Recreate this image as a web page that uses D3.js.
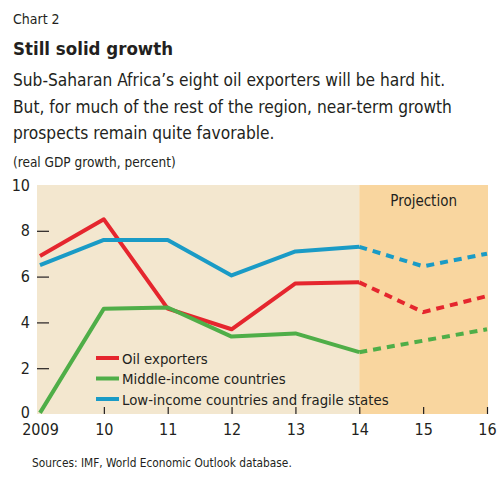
<!DOCTYPE html>
<html>
<head>
<meta charset="utf-8">
<script src="https://cdn.jsdelivr.net/npm/d3@7"></script>
<style>
  body { margin: 0; background: #fff; }
  text { font-family: "DejaVu Sans Condensed", "Liberation Sans Narrow", sans-serif; fill: #231f20; }
</style>
</head>
<body>
<div id="chart"></div>
<script>
var years = [2009, 2010, 2011, 2012, 2013, 2014, 2015, 2016];
var yearLabels = ["2009", "10", "11", "12", "13", "14", "15", "16"];
var oilExporters = [6.9, 8.5, 4.6, 3.7, 5.7, 5.75, 4.45, 5.15];
var middleIncome = [0.05, 4.6, 4.65, 3.38, 3.52, 2.7, 3.2, 3.7];
var lowIncome = [6.5, 7.6, 7.6, 6.05, 7.1, 7.3, 6.45, 7.0];
var yTicks = [0, 2, 4, 6, 8, 10];
var projectionStart = 2014;

var aSeries = [
	{ name: "Oil exporters", values: oilExporters, color: "#e5262e" },
	{ name: "Middle-income countries", values: middleIncome, color: "#4fae48" },
	{ name: "Low-income countries and fragile states", values: lowIncome, color: "#1a9bc6" }
];

var width = 500, height = 483;
var margin = { top: 185, right: 12, bottom: 69, left: 37 };
var innerW = width - margin.left - margin.right,
	innerH = height - margin.top - margin.bottom;

var svg = d3.select("#chart").append("svg")
	.attr("width", width)
	.attr("height", height);

// header texts
svg.append("text").attr("x", 13).attr("y", 24).style("font-size", "14px").text("Chart 2");
svg.append("text").attr("x", 13).attr("y", 55).style("font-size", "18.5px").style("font-weight", "bold").text("Still solid growth");
var aSub = ["Sub-Saharan Africa\u2019s eight oil exporters will be hard hit.",
	"But, for much of the rest of the region, near-term growth",
	"prospects remain quite favorable."];
aSub.forEach(function (line, i) {
	svg.append("text").attr("x", 13).attr("y", 86 + i * 26.5).style("font-size", "17.2px").text(line);
});
svg.append("text").attr("x", 13).attr("y", 167).style("font-size", "13.5px").text("(real GDP growth, percent)");

var g = svg.append("g").attr("transform", "translate(" + margin.left + "," + margin.top + ")");

var x = d3.scaleLinear().domain([2009, 2016]).range([3, innerW - 1]);
var y = d3.scaleLinear().domain([0, 10]).range([innerH, 0]);

// backgrounds
g.append("rect").attr("x", 0).attr("y", 0).attr("width", x(projectionStart)).attr("height", innerH).attr("fill", "#f3e7cf");
g.append("rect").attr("x", x(projectionStart)).attr("y", 0).attr("width", innerW - x(projectionStart)).attr("height", innerH).attr("fill", "#f9d69f");
g.append("text").attr("x", (x(projectionStart) + innerW) / 2).attr("y", 21)
	.attr("text-anchor", "middle").style("font-size", "15px").text("Projection");

// y axis
var yAxis = g.append("g").call(d3.axisLeft(y).tickValues(yTicks).tickSize(-12).tickPadding(20));
yAxis.select(".domain").remove();
yAxis.selectAll(".tick line").attr("stroke", "#231f20").attr("stroke-width", 1.2);
yAxis.selectAll(".tick text").style("font-size", "16px").attr("x", -7);
yAxis.selectAll(".tick").filter(function (d) { return d === 0 || d === 10; }).select("line").remove();
yAxis.selectAll(".tick").filter(function (d) { return d === 0; }).select("text").attr("dy", "0.2em");

// x axis
var xAxis = g.append("g").attr("transform", "translate(0," + innerH + ")")
	.call(d3.axisBottom(x).tickValues(years).tickFormat(function (d, i) { return yearLabels[i]; }).tickSize(-7).tickPadding(10));
xAxis.select(".domain").remove();
xAxis.selectAll(".tick line").attr("stroke", "#231f20").attr("stroke-width", 1.2);
xAxis.selectAll(".tick text").style("font-size", "16px");
xAxis.selectAll(".tick").filter(function (d) { return d === 2009; }).select("line").remove();

// lines
var line = d3.line().x(function (d) { return x(d.year); }).y(function (d) { return y(d.value); });
aSeries.forEach(function (s) {
	var pts = years.map(function (yr, i) { return { year: yr, value: s.values[i] }; });
	var actual = pts.filter(function (d) { return d.year <= projectionStart; });
	var proj = pts.filter(function (d) { return d.year >= projectionStart; });
	g.append("path").datum(actual).attr("d", line)
		.attr("fill", "none").attr("stroke", s.color).attr("stroke-width", 4).attr("stroke-linejoin", "round");
	g.append("path").datum(proj).attr("d", line)
		.attr("fill", "none").attr("stroke", s.color).attr("stroke-width", 4).attr("stroke-dasharray", "8,6");
});

// legend
var legend = g.append("g").attr("transform", "translate(59,173)");
aSeries.forEach(function (s, i) {
	var row = legend.append("g").attr("transform", "translate(0," + (i * 20.5) + ")");
	row.append("line").attr("x1", 0).attr("x2", 23).attr("y1", 0).attr("y2", 0)
		.attr("stroke", s.color).attr("stroke-width", 4);
	row.append("text").attr("x", 26).attr("y", 5.5).style("font-size", "14.8px").text(s.name);
});

// source
svg.append("text").attr("x", 32).attr("y", 467).style("font-size", "11.8px").text("Sources: IMF, World Economic Outlook database.");
</script>
</body>
</html>
